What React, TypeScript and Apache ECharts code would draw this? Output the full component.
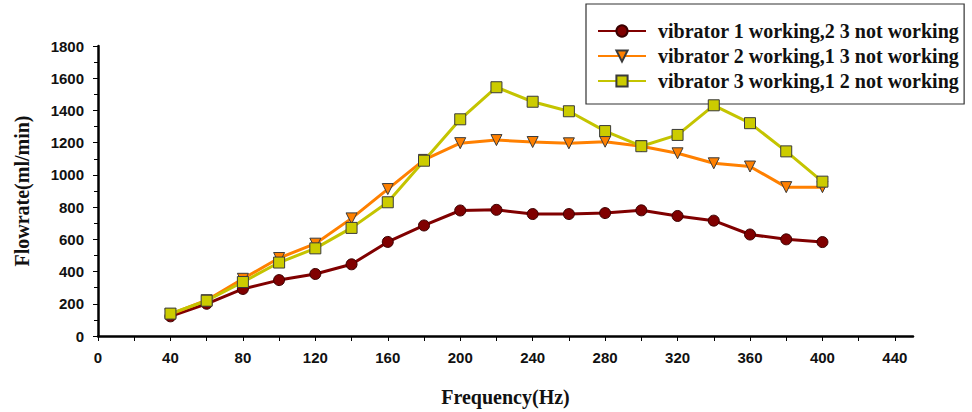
import React, { useEffect, useRef } from "react";
import * as echarts from "echarts";

const frequencies = [40, 60, 80, 100, 120, 140, 160, 180, 200, 220, 240, 260, 280, 300, 320, 340, 360, 380, 400];
const vibrator1 = [122, 200, 292, 347, 385, 445, 584, 686, 779, 783, 757, 757, 763, 780, 745, 716, 630, 600, 583];
const vibrator2 = [135, 222, 355, 484, 573, 730, 912, 1093, 1197, 1216, 1204, 1196, 1206, 1178, 1134, 1072, 1052, 924, 924];
const vibrator3 = [139, 219, 335, 456, 544, 671, 830, 1088, 1345, 1544, 1454, 1395, 1272, 1178, 1248, 1432, 1321, 1146, 958];
const seriesNames = [
  "vibrator 1 working,2 3 not working",
  "vibrator 2 working,1 3 not working",
  "vibrator 3 working,1 2 not working",
];
const xLabelValues = [0, 40, 80, 120, 160, 200, 240, 280, 320, 360, 400, 440];
const xTickValues = [0, 20, 40, 60, 80, 100, 120, 140, 160, 180, 200, 220, 240, 260, 280, 300, 320, 340, 360, 380, 400, 420, 440];

const serif = "'Liberation Serif', 'Times New Roman', serif";
const sans = "'Liberation Sans', Arial, sans-serif";

export default function App() {
  const ref = useRef<HTMLDivElement>(null);
  useEffect(() => {
    if (!ref.current) return;
    const chart = echarts.init(ref.current, null, { renderer: "svg" });
    const pair = (arr: number[]) => frequencies.map((f, i) => [f, arr[i]]);
    chart.setOption({
      animation: false,
      backgroundColor: "#ffffff",
      grid: { left: 98, right: 59, top: 46, bottom: 76 },
      legend: {
        orient: "vertical",
        left: 586,
        top: 4,
        padding: [17, 5, 13, 11],
        itemGap: 5,
        itemWidth: 48,
        itemHeight: 14,
        borderColor: "#333333",
        borderWidth: 1.2,
        backgroundColor: "#ffffff",
        textStyle: {
          fontFamily: serif,
          fontWeight: "bold",
          fontSize: 20,
          lineHeight: 20,
          color: "#111111",
          padding: [0, 0, 0, 7],
        },
        data: seriesNames,
      },
      xAxis: {
        type: "value",
        min: 0,
        max: 450,
        interval: 20,
        name: "Frequency(Hz)",
        nameLocation: "middle",
        nameGap: 51,
        nameTextStyle: { fontFamily: serif, fontWeight: "bold", fontSize: 20, color: "#111111" },
        axisLine: { onZero: false, lineStyle: { color: "#000000", width: 2.5 } },
        axisTick: { show: true, length: 5, lineStyle: { color: "#000000", width: 1 }, customValues: xTickValues },
        axisLabel: {
          fontFamily: sans,
          fontWeight: "bold",
          fontSize: 15,
          color: "#111111",
          margin: 14,
          customValues: xLabelValues,
        },
        splitLine: { show: false },
      },
      yAxis: {
        type: "value",
        min: 0,
        max: 1800,
        interval: 200,
        name: "Flowrate(ml/min)",
        nameLocation: "middle",
        nameGap: 66,
        nameTextStyle: { fontFamily: serif, fontWeight: "bold", fontSize: 20, color: "#111111" },
        axisLine: { show: true, lineStyle: { color: "#000000", width: 2.5 } },
        axisTick: { show: true, length: 5, lineStyle: { color: "#000000", width: 1 } },
        minorTick: { show: true, splitNumber: 2, length: 4, lineStyle: { color: "#000000", width: 1 } },
        axisLabel: {
          fontFamily: sans,
          fontWeight: "bold",
          fontSize: 15,
          color: "#111111",
          margin: 14,
          formatter: (v: number) => String(v),
        },
        splitLine: { show: false },
      },
      series: [
        {
          name: seriesNames[0],
          type: "line",
          data: pair(vibrator1),
          symbol: "circle",
          symbolSize: 11,
          lineStyle: { color: "#800000", width: 3 },
          itemStyle: { color: "#800000", borderColor: "#3a0000", borderWidth: 1 },
          z: 3,
        },
        {
          name: seriesNames[1],
          type: "line",
          data: pair(vibrator2),
          symbol: "triangle",
          symbolRotate: 180,
          symbolSize: 11,
          lineStyle: { color: "#FF8000", width: 3 },
          itemStyle: { color: "#FF8000", borderColor: "#3a3a3a", borderWidth: 1 },
          z: 4,
        },
        {
          name: seriesNames[2],
          type: "line",
          data: pair(vibrator3),
          symbol: "rect",
          symbolSize: 11,
          lineStyle: { color: "#C4C400", width: 3 },
          itemStyle: { color: "#CCCC00", borderColor: "#3a3a3a", borderWidth: 1 },
          z: 5,
        },
      ],
    });
    return () => chart.dispose();
  }, []);
  return (
    <div
      ref={ref}
      style={{ position: "fixed", left: 0, top: 0, width: 972, height: 412, background: "#fff" }}
    />
  );
}
